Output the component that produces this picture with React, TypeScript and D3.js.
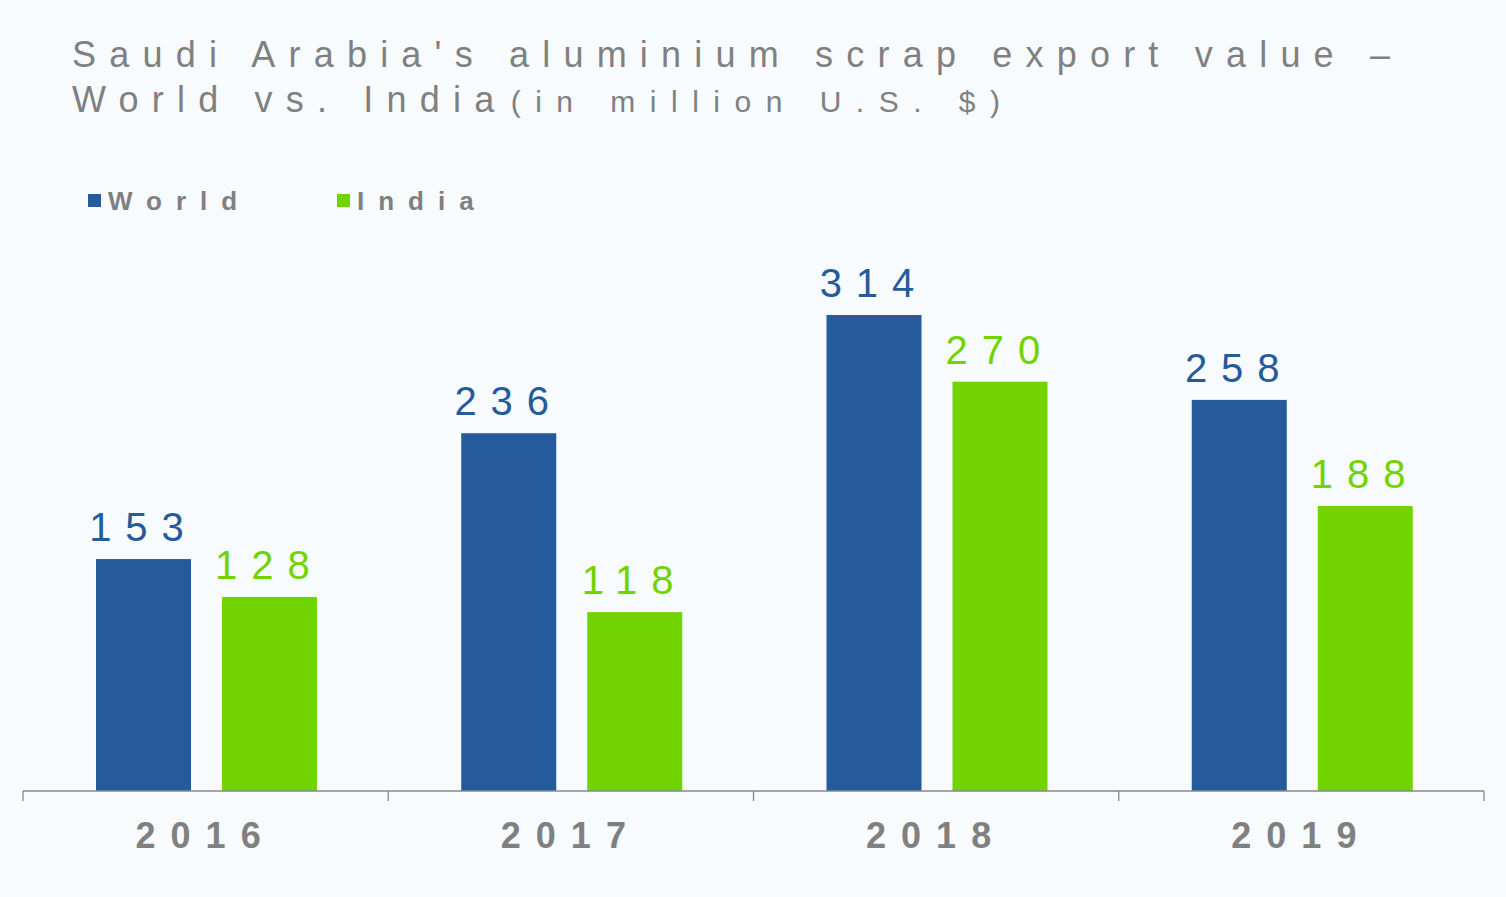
import React, { useRef, useEffect } from "react";
import * as d3 from "d3";

const years = ["2016", "2017", "2018", "2019"];
const seriesNames = ["World", "India"];
const worldValues = [153, 236, 314, 258];
const indiaValues = [128, 118, 270, 188];
const seriesColors = ["#255b9b", "#71d300"];

const W = 1506;
const H = 897;

const App = () => {
  const svgRef = useRef<SVGSVGElement>(null);

  useEffect(() => {
    const svg = d3.select(svgRef.current);
    svg.selectAll("*").remove();

    const font = "'Liberation Sans', Arial, sans-serif";
    const grey = "#808080";

    svg.append("rect").attr("width", W).attr("height", H).attr("fill", "#f7fbfe");

    // title, two lines
    const title = svg.append("text")
      .attr("font-family", font)
      .attr("fill", grey)
      .attr("font-size", 36)
      .attr("letter-spacing", 13.2);
    title.append("tspan").attr("x", 72).attr("y", 67)
      .text("Saudi Arabia's aluminium scrap export value –");
    title.append("tspan").attr("x", 72).attr("y", 112).text("World vs. India ");
    title.append("tspan").attr("dx", -20).attr("font-size", 30).attr("letter-spacing", 14.5)
      .text("(in million U.S. $)");

    // legend
    const legendX = [88, 337];
    seriesNames.forEach((name, i) => {
      svg.append("rect")
        .attr("x", legendX[i]).attr("y", 194)
        .attr("width", 13).attr("height", 13)
        .attr("fill", seriesColors[i]);
      svg.append("text")
        .attr("x", legendX[i] + 20).attr("y", 210)
        .attr("font-family", font).attr("font-weight", "bold")
        .attr("font-size", 26).attr("letter-spacing", 14)
        .attr("fill", grey)
        .text(name);
    });

    // scales
    const x0 = d3.scaleBand().domain(years).range([23, 1484]).padding(0);
    const x1 = d3.scaleBand().domain(seriesNames)
      .range([73, 294]).paddingInner(0.246).paddingOuter(0);
    const y = d3.scaleLinear().domain([0, 314]).range([791, 315]);

    const rows = years.map((yr, i) => ({
      year: yr,
      values: [worldValues[i], indiaValues[i]],
    }));

    const groups = svg.selectAll("g.year")
      .data(rows)
      .enter()
      .append("g")
      .attr("class", "year")
      .attr("transform", d => `translate(${x0(d.year)},0)`);

    groups.selectAll("rect")
      .data(d => d.values.map((v, i) => ({ name: seriesNames[i], v, i })))
      .enter()
      .append("rect")
      .attr("x", d => x1(d.name)!)
      .attr("y", d => y(d.v))
      .attr("width", x1.bandwidth())
      .attr("height", d => y(0) - y(d.v))
      .attr("fill", d => seriesColors[d.i]);

    // value labels
    groups.selectAll("text.val")
      .data(d => d.values.map((v, i) => ({ name: seriesNames[i], v, i })))
      .enter()
      .append("text")
      .attr("class", "val")
      .attr("x", d => x1(d.name)! + x1.bandwidth() / 2)
      .attr("y", d => y(d.v) - 18)
      .attr("text-anchor", "middle")
      .attr("font-family", font)
      .attr("font-size", 40)
      .attr("letter-spacing", 14)
      .attr("fill", d => seriesColors[d.i])
      .text(d => d.v);

    // x axis
    const axis = svg.append("g").attr("transform", `translate(0,${y(0)})`);
    axis.append("line")
      .attr("x1", 23).attr("x2", 1484)
      .attr("stroke", "#898989").attr("stroke-width", 1.3);
    const tickXs = [...years.map(yr => x0(yr)!), 1484];
    axis.selectAll("line.tick")
      .data(tickXs)
      .enter()
      .append("line")
      .attr("class", "tick")
      .attr("x1", d => d).attr("x2", d => d)
      .attr("y1", 0).attr("y2", 10)
      .attr("stroke", "#898989").attr("stroke-width", 1.3);

    axis.selectAll("text")
      .data(years)
      .enter()
      .append("text")
      .attr("x", d => x0(d)! + x0.bandwidth() / 2)
      .attr("y", 57)
      .attr("text-anchor", "middle")
      .attr("font-family", font)
      .attr("font-weight", "bold")
      .attr("font-size", 36)
      .attr("letter-spacing", 15)
      .attr("fill", grey)
      .text(d => d);
  }, []);

  return (
    <svg
      ref={svgRef}
      width={W}
      height={H}
      style={{ display: "block", position: "absolute", left: 0, top: 0 }}
    />
  );
};

export default App;
